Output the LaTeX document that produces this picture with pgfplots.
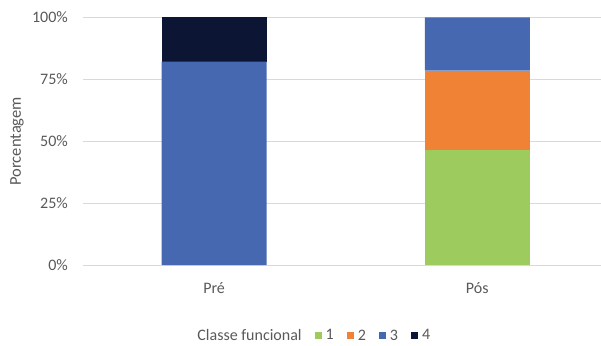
\documentclass[border=0pt]{standalone}
\usepackage{pgfplots}
\pgfplotsset{compat=1.18}
\usepackage{fontspec}
\setmainfont{Carlito}
\definecolor{c1}{RGB}{157,203,94}
\definecolor{c2}{RGB}{240,130,54}
\definecolor{c3}{RGB}{70,104,176}
\definecolor{c4}{RGB}{12,22,52}
\definecolor{txt}{RGB}{89,89,89}
\definecolor{gridc}{RGB}{217,217,217}
\pgfplotsset{sqlegend/.style={legend image code/.code={\fill[##1] (0pt,-2.5pt) rectangle (7pt,4.5pt); \path (9pt,0pt);}}}
\begin{document}
\fontsize{16}{19}\selectfont
\begin{tikzpicture}
\useasboundingbox (0,0) rectangle (601pt,345pt);
\begin{axis}[
  at={(82.5pt,80pt)}, anchor=south west,
  scale only axis, width=518.5pt, height=247.5pt,
  ybar stacked, bar width=105pt,
  xmin=-0.5, xmax=1.47, ymin=0, ymax=100,
  clip=false,
  xtick={0,1}, xticklabels={Pré,Pós},
  ytick={0,25,50,75,100},
  yticklabel={\pgfmathprintnumber{\tick}\%},
  /pgf/number format/assume math mode=true,
  ymajorgrids, grid style={gridc, line width=1pt},
  axis line style={draw=none}, major tick length=0pt,
  tick label style={text=txt, font=\fontsize{16}{19}\selectfont},
  xticklabel style={anchor=base, yshift=-28pt, inner sep=0pt},
  yticklabel style={anchor=east, xshift=-14.5pt, inner sep=0pt},
  ylabel={Porcentagem},
  ylabel style={at={(axis description cs:-0.1263,0.5)}, anchor=center, text=txt, font=\fontsize{16.5}{19}\selectfont},
  legend style={at={(rel axis cs:0.446,-0.287)}, anchor=center, draw=none, fill=none,
    legend columns=-1, text=txt, font=\fontsize{16}{19}\selectfont,
    /tikz/every even column/.append style={column sep=11pt}},
  legend cell align=left,
]
\addlegendimage{empty legend}
\addplot[fill=c1, draw=none, sqlegend] coordinates {(0,0) (1,46.43)};
\addplot[fill=c2, draw=none, sqlegend] coordinates {(0,0) (1,32.14)};
\addplot[fill=c3, draw=none, sqlegend] coordinates {(0,82.14) (1,21.43)};
\addplot[fill=c4, draw=none, sqlegend] coordinates {(0,17.86) (1,0)};
\legend{Classe funcional\hspace{14pt},1,2,3,4}
\end{axis}
\end{tikzpicture}
\end{document}
